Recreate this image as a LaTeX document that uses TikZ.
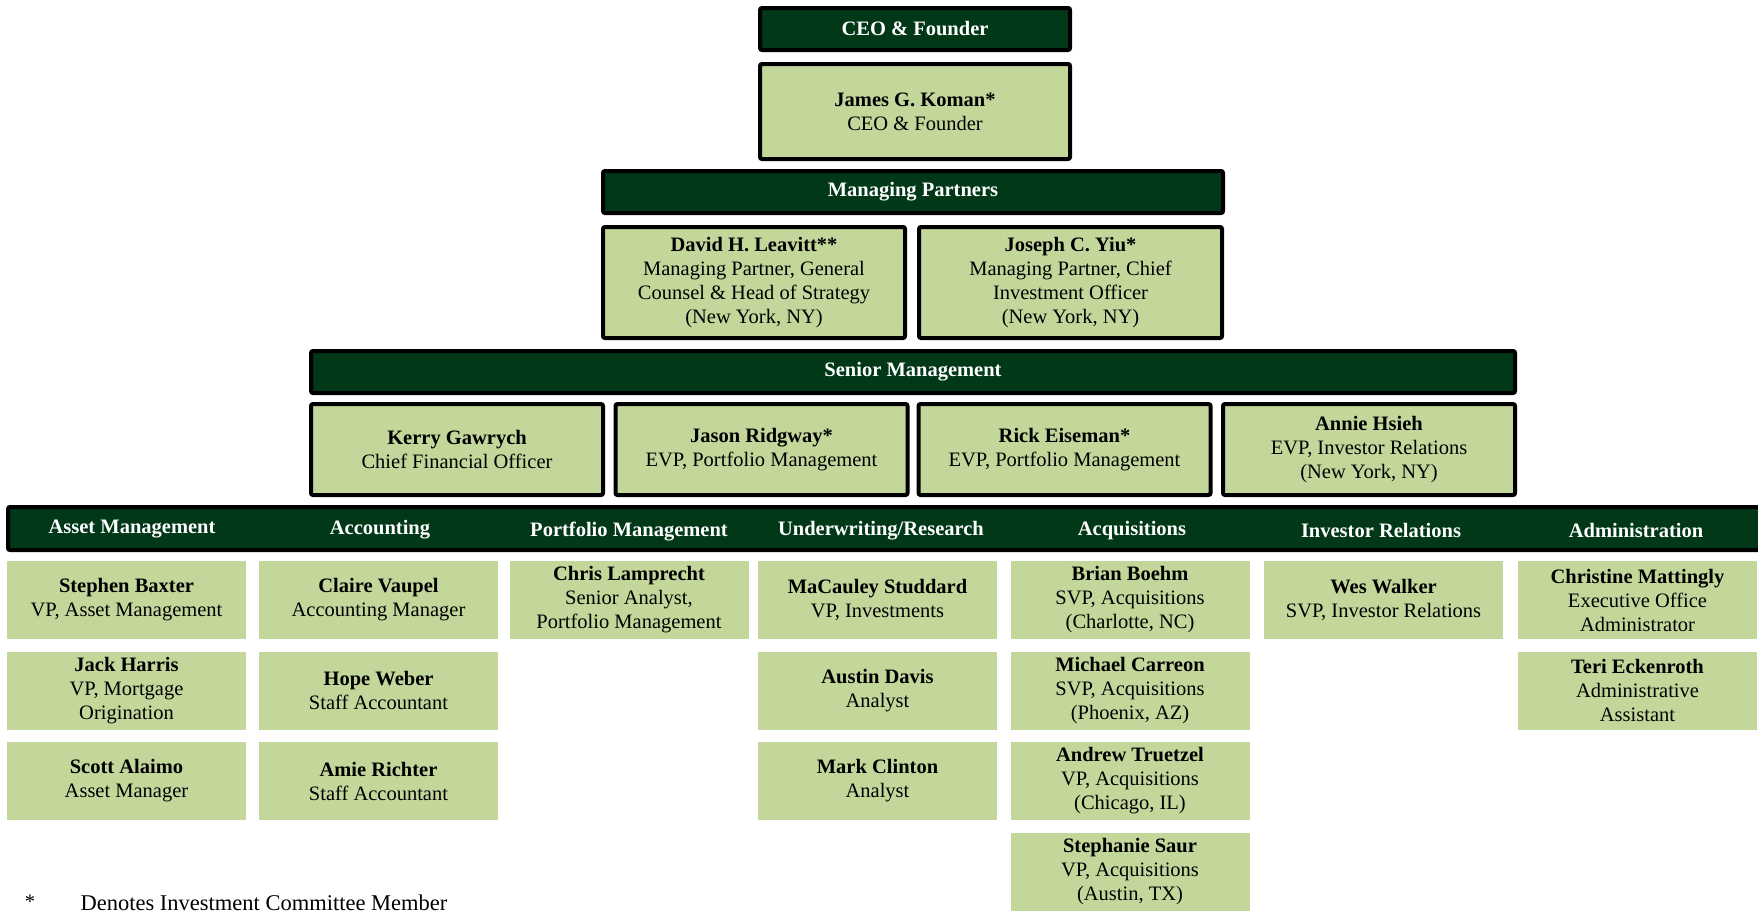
\documentclass[tikz,border=0pt]{standalone}
\usepackage{fontspec}
\setmainfont{Liberation Serif}
\definecolor{kodark}{RGB}{0,56,24}
\definecolor{kolight}{RGB}{196,215,155}

\begin{document}
\begin{tikzpicture}[x=1pt, y=-1pt, font=\fontsize{20.5}{24}\selectfont,
    hdr/.style={draw=black, line width=4pt, fill=kodark, rounded corners=2pt,
                text=white, font=\fontsize{20.5}{24}\selectfont\bfseries,
                minimum height=42pt, inner sep=0pt},
    lead/.style={draw=black, line width=4pt, fill=kolight, rounded corners=2pt,
                 align=center, inner sep=0pt},
    staff/.style={fill=kolight, align=center, inner sep=0pt,
                  minimum width=239pt, minimum height=78pt}]
  \useasboundingbox (0,0) rectangle (1758,916);

  % top of the chart
  \node[hdr, minimum width=310pt] (ceohdr) at (915,29) {CEO \& Founder};
  \node[lead, minimum width=310pt, minimum height=95pt] (koman) at (915,111.5)
    {\textbf{James G. Koman*}\\CEO \& Founder};
  \node[hdr, minimum width=620pt] (mphdr) at (913,192) {Managing Partners};
  \node[lead, minimum width=302pt, minimum height=111pt] (leavitt) at (754,282.5)
    {\textbf{David H. Leavitt**}\\Managing Partner, General\\
     Counsel \& Head of Strategy\\(New York, NY)};
  \node[lead, minimum width=303pt, minimum height=111pt] (yiu) at (1070.5,282.5)
    {\textbf{Joseph C. Yiu*}\\Managing Partner, Chief\\
     Investment Officer\\(New York, NY)};
  \node[hdr, minimum width=1204pt] (smhdr) at (913,372) {Senior Management};

  \foreach \x/\id/\who/\role in
    {457/gawrych/{Kerry Gawrych}/{Chief Financial Officer},
     761.5/ridgway/{Jason Ridgway*}/{EVP, Portfolio Management},
     1064.5/eiseman/{Rick Eiseman*}/{EVP, Portfolio Management},
     1369/hsieh/{Annie Hsieh}/{EVP, Investor Relations\\(New York, NY)}} {
    \node[lead, minimum width=292pt, minimum height=91pt] (\id) at (\x,449.5)
      {\textbf{\who}\\\role};
  }

  % departments
  \node[hdr, minimum width=1760pt, minimum height=43pt] (deptbar) at (888,528.5) {};
  \foreach \x/\y/\id/\dept in
    {132/528.5/am/{Asset Management}, 380/529.5/acc/Accounting,
     629/531.5/pm/{Portfolio Management}, 881/530.5/uw/{Underwriting/Research},
     1132/530.5/acq/Acquisitions, 1381/530.5/ir/{Investor Relations},
     1636/530.5/adm/Administration} {
    \node[text=white, font=\fontsize{20.5}{24}\selectfont\bfseries] (\id) at (\x,\y) {\dept};
  }

  \foreach \x/\r/\id/\who/\role in
    {126.5/1/baxter/{Stephen Baxter}/{VP, Asset Management},
     126.5/2/harris/{Jack Harris}/{VP, Mortgage\\Origination},
     126.5/3/alaimo/{Scott Alaimo}/{Asset Manager},
     378.5/1/vaupel/{Claire Vaupel}/{Accounting Manager},
     378.5/2/weber/{Hope Weber}/{Staff Accountant},
     378.5/3/richter/{Amie Richter}/{Staff Accountant},
     629/1/lamprecht/{Chris Lamprecht}/{Senior Analyst,\\Portfolio Management},
     877.5/1/studdard/{MaCauley Studdard}/{VP, Investments},
     877.5/2/davis/{Austin Davis}/{Analyst},
     877.5/3/clinton/{Mark Clinton}/{Analyst},
     1130/1/boehm/{Brian Boehm}/{SVP, Acquisitions\\(Charlotte, NC)},
     1130/2/carreon/{Michael Carreon}/{SVP, Acquisitions\\(Phoenix, AZ)},
     1130/3/truetzel/{Andrew Truetzel}/{VP, Acquisitions\\(Chicago, IL)},
     1130/4/saur/{Stephanie Saur}/{VP, Acquisitions\\(Austin, TX)},
     1383.5/1/walker/{Wes Walker}/{SVP, Investor Relations},
     1637.5/1/mattingly/{Christine Mattingly}/{Executive Office\\Administrator},
     1637.5/2/eckenroth/{Teri Eckenroth}/{Administrative\\Assistant}} {
    \node[staff] (\id) at (\x,{600+(\r-1)*90.5}) {\textbf{\who}\\\role};
  }

  % footnote
  \node[anchor=base] (star) at (30,908) {*};
  \node[anchor=base west, font=\fontsize{22.5}{24}\selectfont] (denote) at (77,910)
    {Denotes Investment Committee Member};
\end{tikzpicture}
\end{document}
